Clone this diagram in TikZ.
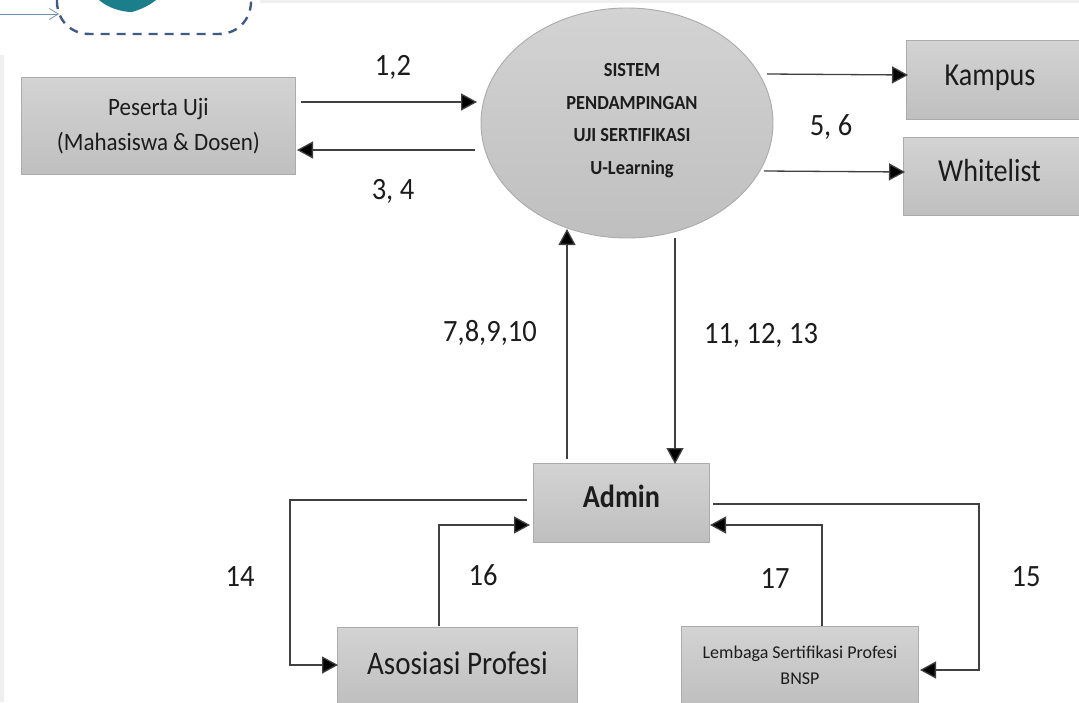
\documentclass[tikz,border=0pt]{standalone}
\usepackage{fontspec}
\setmainfont{Carlito}
\newfontfamily\cfa[FakeStretch=0.88]{Carlito}
\newfontfamily\cfb[FakeStretch=0.92]{Carlito}
\usetikzlibrary{arrows.meta,shapes.geometric}
\definecolor{ink}{HTML}{1C1C1C}
\definecolor{edgegrey}{HTML}{ABABAB}
\definecolor{gtop}{HTML}{D3D3D3}
\definecolor{gbot}{HTML}{BFBFBF}
\definecolor{dashblue}{HTML}{3F5A86}
\definecolor{thinblue}{HTML}{6F8FB5}
\definecolor{strip}{HTML}{EFEFEF}
\definecolor{tealblob}{HTML}{1A7F8A}
\tikzset{
  x=1pt,y=-1pt,
  ent/.style={draw=edgegrey,line width=0.9pt,top color=gtop,bottom color=gbot,rectangle,inner sep=0pt,align=center,text=ink},
  flow/.style={draw=black!75,line width=1.3pt,-{Triangle[length=16pt,width=17pt,fill=black]}},
  lab/.style={font=\cfb\fontsize{31}{36}\selectfont,text=ink,inner sep=0pt},
  boxat/.style n args={4}{minimum width=#3-#1,minimum height=#4-#2,anchor=north west},
}
\begin{document}
\begin{tikzpicture}
\useasboundingbox (0,0) rectangle (1079,702);
\fill[white] (0,0) rectangle (1079,702);
\fill[strip] (260,0) rectangle (1079,3);
\fill[strip] (0,55) rectangle (4,702);
% cropped logo fragment
\fill[tealblob] (99,0) .. controls (108,8) and (122,12) .. (132,12) .. controls (142,9) and (150,5) .. (156,0) -- cycle;
\draw[dashblue,line width=2.4pt,dash pattern=on 9pt off 7pt] (57,0) -- (57,3) .. controls (58,20) and (70,34) .. (90,34) -- (218,34) .. controls (238,34) and (250,20) .. (251,3) -- (251,0);
\coordinate (logoin) at (59,14);
\coordinate (logoout) at (0,14);
\draw[thinblue,line width=0.7pt,-{Straight Barb[length=9pt,width=11pt]}] (logoout) -- (logoin);

\node[ent,boxat={21}{77}{295}{174},font=\cfb\fontsize{25}{35}\selectfont] (peserta) at (21,77) {\raisebox{-1pt}{Peserta Uji}\\\raisebox{-1pt}{(Mahasiswa \& Dosen)}};
\node[ent,ellipse,minimum width=292,minimum height=230,font=\cfb\fontsize{20}{32.5}\selectfont\bfseries,draw=edgegrey] (sistem) at (627,123) {\hspace*{10pt}\raisebox{4pt}[\height][\depth]{\begin{tabular}{@{}c@{}}SISTEM\\PENDAMPINGAN\\UJI SERTIFIKASI\\U-Learning\end{tabular}}};
\node[ent,boxat={906}{40}{1080}{119},font=\cfa\fontsize{32}{36}\selectfont] (kampus) at (906,40) {\hspace*{-7pt}\raisebox{9pt}{Kampus}};
\node[ent,boxat={903}{137}{1080}{215},font=\cfa\fontsize{32}{36}\selectfont] (whitelist) at (903,137) {\hspace*{-5pt}\raisebox{12pt}{Whitelist}};
\node[ent,boxat={533}{463}{709}{542},font=\cfa\fontsize{32}{36}\selectfont\bfseries] (admin) at (533,463) {\raisebox{13pt}{Admin}};
\node[ent,boxat={337}{627}{577}{704},font=\cfa\fontsize{33}{36}\selectfont] (asosiasi) at (337,627) {\raisebox{6pt}{Asosiasi Profesi}};
\node[ent,boxat={681}{626}{918}{704},font=\fontsize{18}{26}\selectfont] (lembaga) at (681,626) {Lembaga Sertifikasi Profesi\\BNSP};

% connector ends
\coordinate (a1) at (301,102); \coordinate (a2) at (477,102);
\coordinate (b1) at (475,150); \coordinate (b2) at (297,150);
\coordinate (c1) at (767,74);  \coordinate (c2) at (908,75);
\coordinate (d1) at (764,171); \coordinate (d2) at (905,172);
\coordinate (e1) at (567,459); \coordinate (e2) at (567,229);
\coordinate (f1) at (675,238); \coordinate (f2) at (675,464);
\coordinate (g1) at (527,500); \coordinate (g2) at (338,665);
\coordinate (h1) at (439,626); \coordinate (h2) at (530,525);
\coordinate (i1) at (713,504); \coordinate (i2) at (920,670);
\coordinate (j1) at (822,626); \coordinate (j2) at (710,525);

\draw[flow] (a1) -- (a2);
\draw[flow] (b1) -- (b2);
\draw[flow] (c1) -- (c2);
\draw[flow] (d1) -- (d2);
\draw[flow] (e1) -- (e2);
\draw[flow] (f1) -- (f2);
\draw[flow] (g1) -- (290,500) -- (290,665) -- (g2);
\draw[flow] (h1) -- (439,525) -- (h2);
\draw[flow] (i1) -- (979,504) -- (979,670) -- (i2);
\draw[flow] (j1) -- (822,525) -- (j2);

\node[lab] (l1) at (393,67) {1,2};
\node[lab] (l2) at (393,191) {3, 4};
\node[lab] (l3) at (831,127) {5, 6};
\node[lab] (l4) at (490,333) {7,8,9,10};
\node[lab] (l5) at (761,335) {11, 12, 13};
\node[lab] (l6) at (240,577) {14};
\node[lab] (l7) at (483,575) {16};
\node[lab] (l8) at (775,579) {17};
\node[lab] (l9) at (1026,577) {15};
\end{tikzpicture}
\end{document}
